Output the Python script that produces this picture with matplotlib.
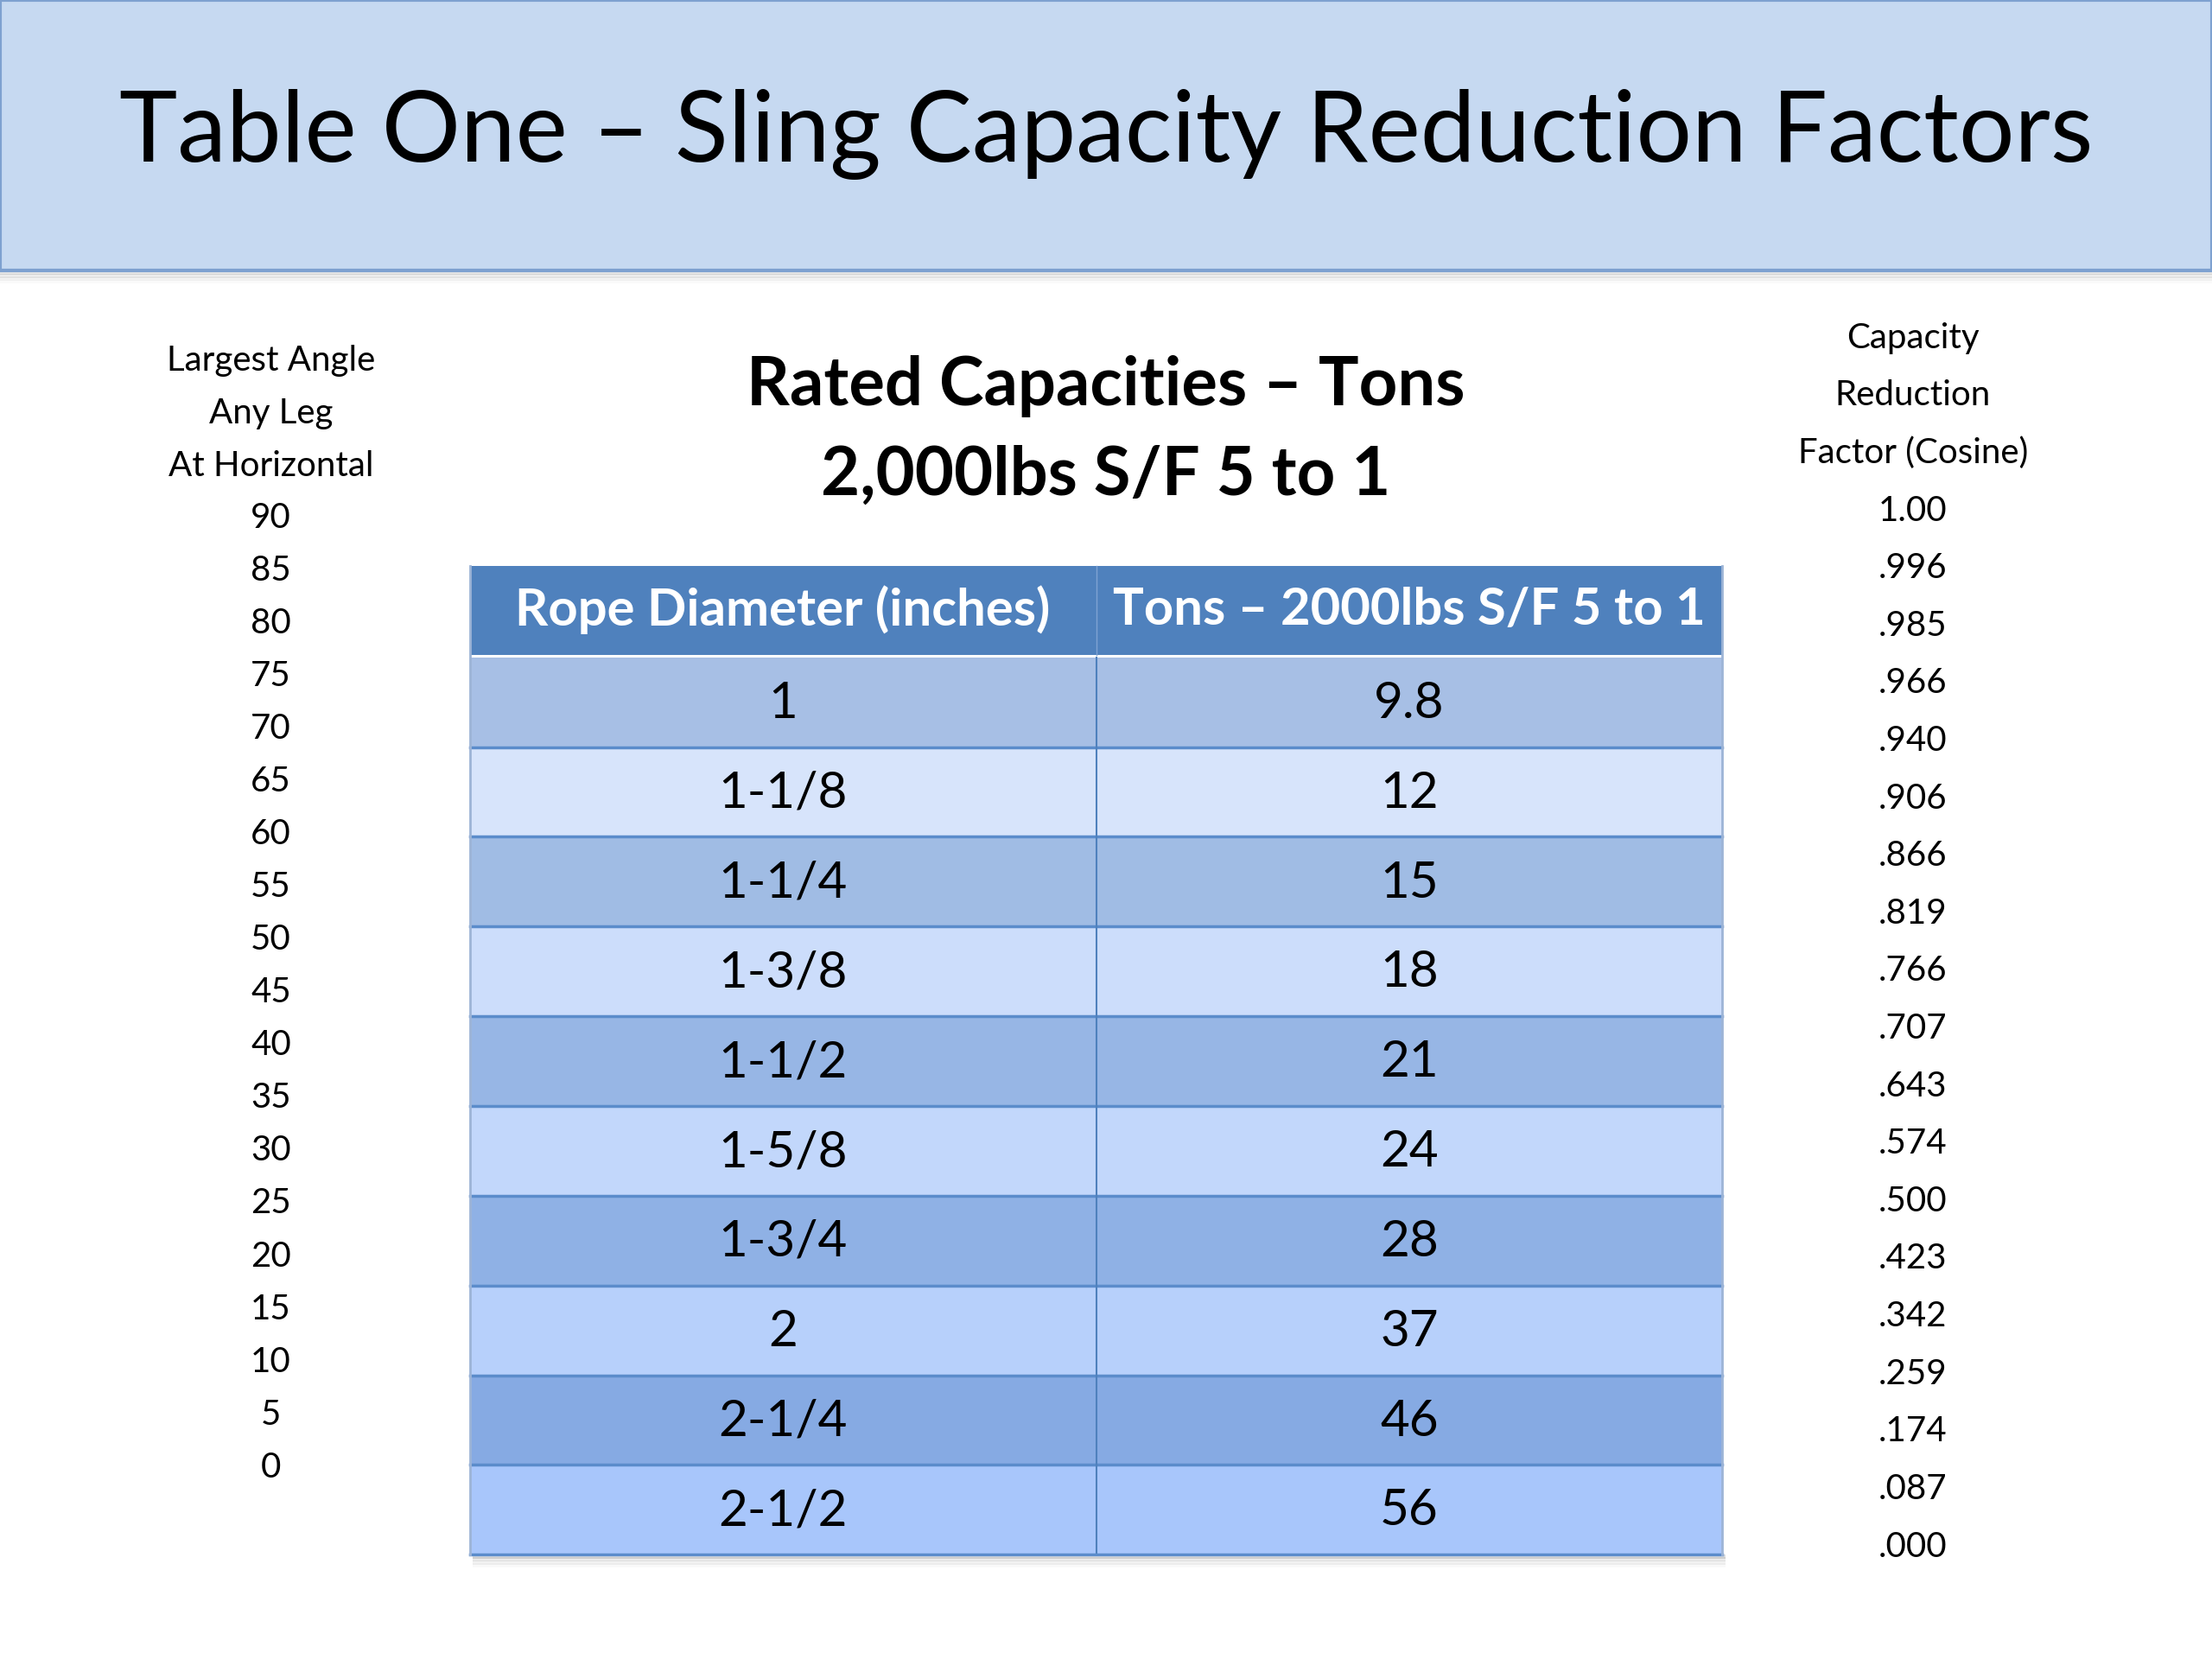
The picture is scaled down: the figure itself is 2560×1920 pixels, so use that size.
import matplotlib.pyplot as plt
from matplotlib.patches import Rectangle
import numpy as np

# ── data ─────────────────────────────────────────────
title = "Table One \u2013 Sling Capacity Reduction Factors"
subtitle = ["Rated Capacities \u2013 Tons", "2,000lbs S/F 5 to 1"]

angle_head = ["Largest Angle", "Any Leg", "At Horizontal"]
angles = [90, 85, 80, 75, 70, 65, 60, 55, 50, 45, 40, 35, 30, 25, 20, 15, 10, 5, 0]

cos_head = ["Capacity", "Reduction", "Factor (Cosine)"]
cosines = ["1.00", ".996", ".985", ".966", ".940", ".906", ".866", ".819", ".766",
           ".707", ".643", ".574", ".500", ".423", ".342", ".259", ".174", ".087", ".000"]

col_heads = ["Rope Diameter (inches)", "Tons \u2013 2000lbs S/F 5 to 1"]
diameters = ["1", "1-1/8", "1-1/4", "1-3/8", "1-1/2", "1-5/8", "1-3/4", "2", "2-1/4", "2-1/2"]
tons = ["9.8", "12", "15", "18", "21", "24", "28", "37", "46", "56"]

row_colors = ["#A7BFE5", "#D7E4FB", "#A0BCE4", "#CCDDFB", "#97B6E5",
              "#C2D7FB", "#8FB1E5", "#B7D0FB", "#86AAE3", "#A8C6FB"]
# ─────────────────────────────────────────────────────

plt.rcParams['font.family'] = ['Lato', 'DejaVu Sans']

W, H = 1568, 1176
fig = plt.figure(figsize=(25.6, 19.2), dpi=100)
ax = fig.add_axes([0, 0, 1, 1])
ax.set_xlim(0, W)
ax.set_ylim(H, 0)
ax.axis("off")

# title band with soft shadow
for k, a in enumerate([0.10, 0.07, 0.04, 0.02]):
    ax.add_patch(Rectangle((0, 192 + k * 2), W, 3, color="#000000", alpha=a, lw=0))
ax.add_patch(Rectangle((0, 0), W, 192, facecolor="#C6D9F1", edgecolor="#7EA1D0", lw=3))
ax.text(W / 2, 95, title, ha="center", va="center", fontsize=82, color="#000000")

# subtitle
ax.text(784, 274, subtitle[0], ha="center", va="center", fontsize=56, weight="bold")
ax.text(784, 337, subtitle[1], ha="center", va="center", fontsize=56, weight="bold")

# left column: angles
for i, s in enumerate(angle_head):
    ax.text(192, 256 + i * 37.2, s, ha="center", va="center", fontsize=29)
for i, a in enumerate(angles):
    ax.text(192, 367 + i * 37.4, str(a), ha="center", va="center", fontsize=29)

# right column: cosines
for i, s in enumerate(cos_head):
    ax.text(1356, 240 + i * 40.5, s, ha="center", va="center", fontsize=29)
for i, c in enumerate(cosines):
    ax.text(1356, 362 + i * 40.8, c, ha="center", va="center", fontsize=29)

# table
x0, x1, xd = 333, 1221, 777
h_top, h_bot = 401, 464
b_top, b_bot = 466, 1102
rh = (b_bot - b_top) / len(diameters)

# shadow under table
for k, a in enumerate([0.12, 0.08, 0.05, 0.025]):
    ax.add_patch(Rectangle((x0 + 2, b_bot + k * 2), x1 - x0, 3, color="#000000", alpha=a, lw=0))

ax.add_patch(Rectangle((x0, h_top), x1 - x0, h_bot - h_top, facecolor="#4F81BD", lw=0))
ax.add_patch(Rectangle((x0, h_bot), x1 - x0, b_top - h_bot, facecolor="#FFFFFF", lw=0))
ax.text((x0 + xd) / 2, (h_top + h_bot) / 2, col_heads[0], ha="center", va="center",
        fontsize=43, weight="bold", color="white")
ax.text((xd + x1) / 2, (h_top + h_bot) / 2, col_heads[1], ha="center", va="center",
        fontsize=43, weight="bold", color="white")
ax.plot([xd, xd], [h_top, h_bot], color="#7FA3D3", lw=1)

for i, (d, t) in enumerate(zip(diameters, tons)):
    y = b_top + i * rh
    ax.add_patch(Rectangle((x0, y), x1 - x0, rh, facecolor=row_colors[i], lw=0))
    if i > 0:
        ax.plot([x0, x1], [y, y], color="#5B8CCB", lw=2.5)
    ax.text((x0 + xd) / 2, y + rh / 2 + 1, d, ha="center", va="center", fontsize=42)
    ax.text((xd + x1) / 2, y + rh / 2 + 1, t, ha="center", va="center", fontsize=42)

ax.plot([xd, xd], [b_top, b_bot], color="#4F81BD", lw=1.5)
ax.plot([x0, x1], [b_bot, b_bot], color="#5B8CCB", lw=2.5)
ax.plot([x0, x0], [h_top, b_bot], color="#9DB4D6", lw=2)
ax.plot([x1, x1], [h_top, b_bot], color="#9DB4D6", lw=2)

fig.savefig("out.png", dpi=100)
